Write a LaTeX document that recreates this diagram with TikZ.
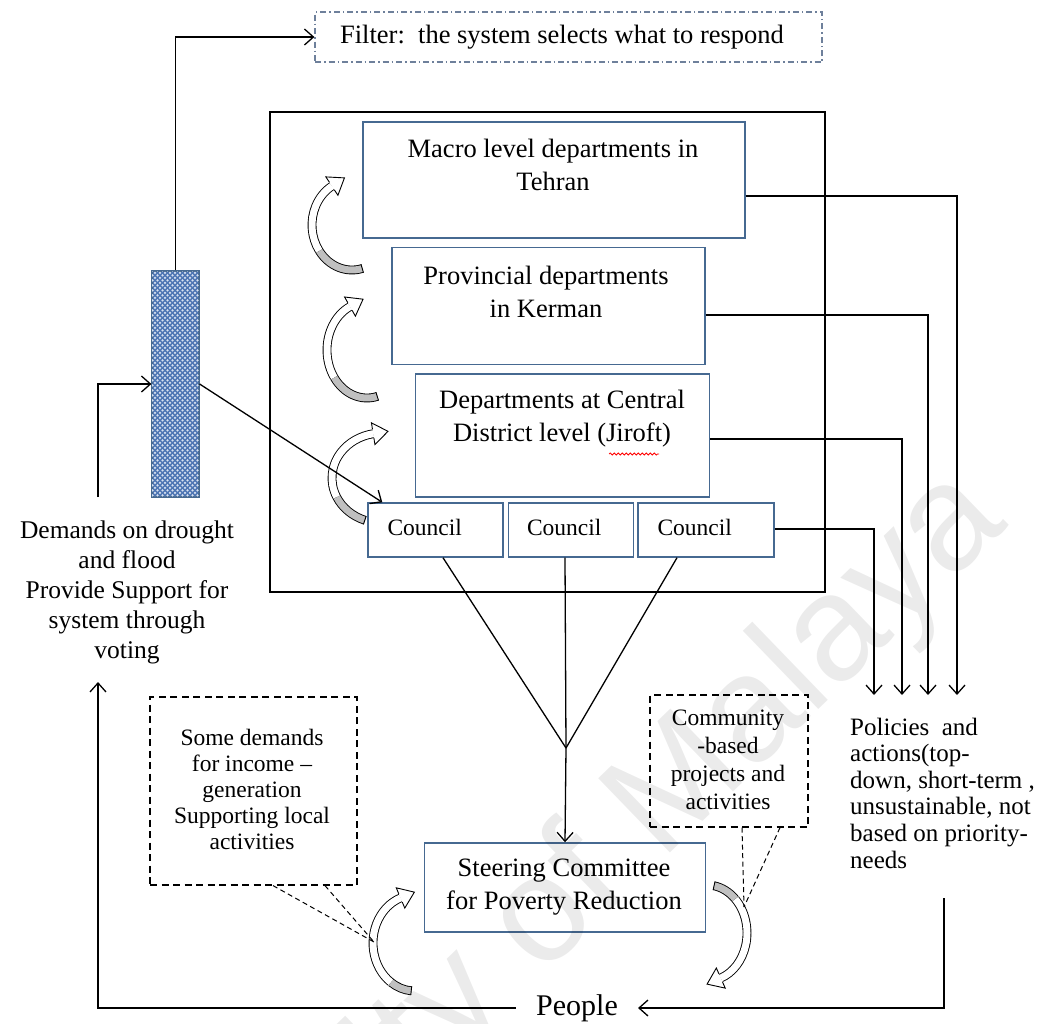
\documentclass[tikz,border=0pt]{standalone}
\usepackage{fontspec}
\setmainfont{Liberation Serif}
\newfontfamily\wmfont{Liberation Sans}
\usetikzlibrary{arrows.meta,patterns.meta,decorations.markings,decorations.pathmorphing}

\definecolor{boxblue}{RGB}{70,105,145}
\definecolor{filterblue}{RGB}{110,128,155}
\definecolor{barblue}{RGB}{78,118,180}
\definecolor{bardot}{RGB}{215,225,240}
\definecolor{ribbongrey}{RGB}{192,192,192}

% curved ribbon arrow: centre x, centre y, x radius, y radius,
% start angle (tail), split angle (grey/white), end angle (head)
\newcommand{\ribbonarrow}[7]{%
  \draw[ribbon, double=ribbongrey] ([shift={(#5:#3 and #4)}]#1,#2)
    arc[start angle=#5, end angle=#6, x radius=#3, y radius=#4];
  \draw[ribbon, double=white] ([shift={(#6:#3 and #4)}]#1,#2)
    arc[start angle=#6, end angle=#7, x radius=#3, y radius=#4];
  \path[postaction={decorate, decoration={markings,
      mark=at position 0.001 with {\draw[black, line width=0.9pt] (0pt,-4.4pt) -- (0pt,4.4pt);},
      mark=at position 0.999 with {%
        \fill[white] (0pt,-11pt) -- (15pt,0pt) -- (0pt,11pt) -- cycle;
        \draw[black, line width=0.9pt, line join=miter]
          (0pt,-4.4pt) -- (0pt,-11pt) -- (15pt,0pt) -- (0pt,11pt) -- (0pt,4.4pt);}}}]
    ([shift={(#5:#3 and #4)}]#1,#2)
    arc[start angle=#5, end angle=#7, x radius=#3, y radius=#4];
}

\begin{document}
\begin{tikzpicture}[x=1pt, y=-1pt,
  conn/.style={draw=black, line width=1.3pt, -{Straight Barb[length=9pt,width=16pt]}},
  plain/.style={draw=black, line width=1.3pt},
  deptbox/.style={draw=boxblue, line width=1.4pt, fill=white, inner sep=0pt},
  framebox/.style={draw=black, line width=1.5pt, inner sep=0pt},
  filterbox/.style={draw=filterblue, line width=1.2pt,
    dash pattern=on 6pt off 3pt on 1.5pt off 3pt, inner sep=0pt},
  callout/.style={draw=black, line width=1.2pt, dash pattern=on 7pt off 4.5pt, inner sep=0pt},
  pointer/.style={draw=black, line width=1pt, dash pattern=on 5pt off 3.5pt},
  ribbon/.style={draw=black, line width=0.9pt, double distance=7pt},
  lbl/.style={align=center, inner sep=0pt, font=\fontsize{26.5}{33}\selectfont},
  small/.style={align=center, inner sep=0pt, font=\fontsize{23.5}{26}\selectfont},
  side/.style={align=center, inner sep=0pt, font=\fontsize{25.5}{30}\selectfont},
  ctxt/.style={inner sep=0pt, font=\fontsize{23.5}{28}\selectfont},
]
\useasboundingbox[fill=white] (0,0) rectangle (1055,1023);

% ---------- filter and input bar ----------
\node[filterbox, minimum width=507pt, minimum height=50pt] (filter) at (568.5,37) {};
\node[lbl, font=\fontsize{26.5}{30}\selectfont] (filtert) at (562,37) {Filter:\ \ the system selects what to respond};

\node[draw=boxblue, line width=1.2pt, fill=barblue, minimum width=47pt, minimum height=226pt,
      inner sep=0pt] (bar) at (175.5,384) {};
\fill[pattern={Dots[distance=5pt, radius=1.25pt]}, pattern color=bardot]
  ([xshift=0.6pt,yshift=-0.6pt]bar.north west) rectangle ([xshift=-0.6pt,yshift=0.6pt]bar.south east);
\fill[pattern={Dots[distance=5pt, radius=1.25pt, xshift=2.5pt, yshift=2.5pt]}, pattern color=bardot]
  ([xshift=0.6pt,yshift=-0.6pt]bar.north west) rectangle ([xshift=-0.6pt,yshift=0.6pt]bar.south east);
\draw[draw=boxblue, line width=1.2pt] (bar.north west) rectangle (bar.south east);

% ---------- political system frame ----------
\node[framebox, minimum width=555pt, minimum height=480pt] (frame) at (547.5,352) {};

\node[deptbox, minimum width=382pt, minimum height=116pt] (macro) at (554,180) {};
\node[lbl] (macrot) at (553,165) {Macro level departments in\\Tehran};

\node[deptbox, minimum width=313pt, minimum height=117pt] (prov) at (548.5,306) {};
\node[lbl] (provt) at (546,291.5) {Provincial departments\\in Kerman};

\node[deptbox, minimum width=294pt, minimum height=123pt] (central) at (562.5,435.5) {};
\node[lbl] (centralt) at (562,419) {Departments at Central\\District level (Jiroft)};
\draw[red, line width=0.8pt, decorate, decoration={snake, amplitude=1pt, segment length=4pt}]
  (609,454) -- (659,454);

\node[deptbox, minimum width=135pt, minimum height=54pt] (c1) at (435.5,530) {};
\node[deptbox, minimum width=125pt, minimum height=54pt] (c2) at (571,530) {};
\node[deptbox, minimum width=136pt, minimum height=54pt] (c3) at (706,530) {};
\node[ctxt, anchor=west] (c1t) at ([xshift=20pt,yshift=3pt]c1.west) {Council};
\node[ctxt, anchor=west] (c2t) at ([xshift=19pt,yshift=3pt]c2.west) {Council};
\node[ctxt, anchor=west] (c3t) at ([xshift=20pt,yshift=3pt]c3.west) {Council};

% upward flow between the levels
\ribbonarrow{352}{225}{40}{45}{75}{145}{240}
\ribbonarrow{367}{350}{40}{48}{75}{145}{245}
\ribbonarrow{382}{478}{50}{45}{110}{155}{260}

% ---------- outputs ----------
\node[side, align=left, anchor=west, font=\fontsize{25}{26.6}\selectfont] (policies) at (850,793)
  {Policies\ \ and\\actions(top-\\down, short-term ,\\unsustainable, not\\based on priority-\\needs};
\coordinate (p1) at (874,695);
\coordinate (p2) at (902,695);
\coordinate (p3) at (928,695);
\coordinate (p4) at (957,695);
\draw[conn] ([yshift=-16pt]macro.east) -| (p4);
\draw[conn] ([yshift=-9pt]prov.east) -| (p3);
\draw[conn] ([yshift=-3.5pt]central.east) -| (p2);
\draw[conn] ([yshift=1pt]c3.east) -| (p1);

% ---------- steering committee ----------
\node[deptbox, minimum width=281pt, minimum height=89pt] (steer) at (565,887.5) {};
\node[lbl] (steert) at (564,887) {Steering Committee\\for Poverty Reduction};
\coordinate (meet) at (566,748);
\draw[plain] ([xshift=7.5pt]c1.south) -- (meet);
\draw[plain] ([xshift=-6pt]c2.south) -- (meet);
\draw[plain] ([xshift=-29pt]c3.south) -- (meet);
\draw[conn] (meet) -- (steer.north);

\ribbonarrow{415}{943}{42}{48}{95}{125}{250}
\ribbonarrow{707}{933}{40}{48}{-80}{-45}{70}

% ---------- call-outs ----------
\node[callout, minimum width=207pt, minimum height=188pt] (lcall) at (253.5,791) {};
\node[small] (lcallt) at (252,789) {Some demands\\for income --\\generation\\Supporting local\\activities};
\coordinate (lptr) at (374,942);
\draw[pointer] ([xshift=19.5pt]lcall.south) -- (lptr);
\draw[pointer] ([xshift=71.5pt]lcall.south) -- (lptr);

\node[callout, minimum width=158pt, minimum height=132pt] (rcall) at (729,761) {};
\node[small, font=\fontsize{23.5}{28}\selectfont] (rcallt) at (728,760) {Community\\-based\\projects and\\activities};
\coordinate (rptr) at (744,907);
\draw[pointer] ([xshift=13pt]rcall.south) -- (rptr);
\draw[pointer] ([xshift=51pt]rcall.south) -- (rptr);

% ---------- feedback loop through the people ----------
\node[inner xsep=20pt, inner ysep=0pt, font=\fontsize{30}{34}\selectfont] (people) at (577,1008) {People};
\coordinate (pstart) at (944,898);
\draw[conn] (pstart) |- (people.east);

\node[side] (demands) at (127,592)
  {Demands on drought\\and flood\\Provide Support for\\system through\\voting};
\coordinate (dbot) at (98,682);
\coordinate (dtop) at (98,497);
\draw[conn] (people.west) -| (dbot);
\draw[conn] (dtop) |- (bar.west);
\draw[conn] (bar.north) |- (filter.west);
\draw[conn] (bar.east) -- ([xshift=15pt]c1.north west);

% ---------- watermark ----------
\node[font=\wmfont\fontsize{150}{180}\selectfont, text=black, text opacity=0.08,
      rotate=44, anchor=base east, inner sep=0pt] (wmark) at (1010,525) {University of Malaya};
\end{tikzpicture}
\end{document}
